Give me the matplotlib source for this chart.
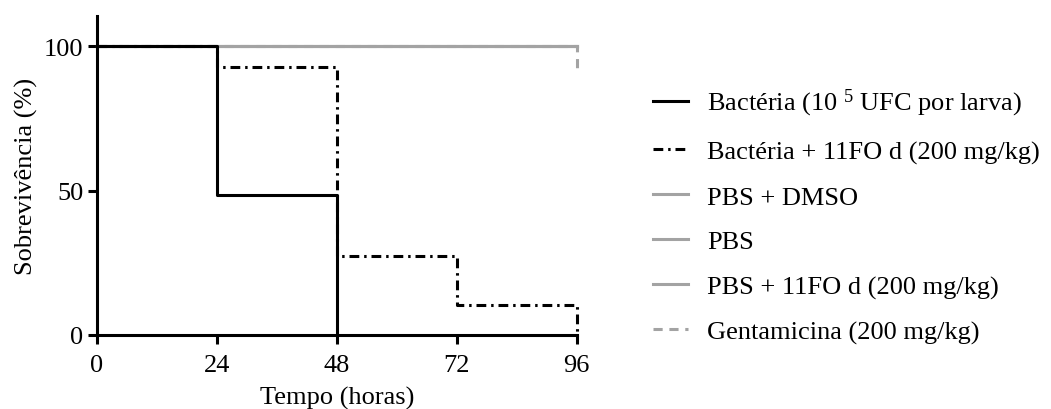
import matplotlib
matplotlib.use("Agg")
import matplotlib.pyplot as plt

# Data
tempo_ticks = [0, 24, 48, 72, 96]
sobrev_ticks = [0, 50, 100]

t_bact = [0, 24, 48]
s_bact = [100, 48.3, 0]

t_bact_11fo = [0, 24, 48, 72, 96]
s_bact_11fo = [100, 93.0, 27.3, 10.3, 0]

t_pbs_dmso = [0, 96]
s_pbs_dmso = [100, 100]
t_pbs = [0, 96]
s_pbs = [100, 100]
t_pbs_11fo = [0, 96]
s_pbs_11fo = [100, 100]

t_genta = [0, 96]
s_genta = [100, 92.0]

labels = [
    "Bactéria (10 $^{5}$ UFC por larva)",
    "Bactéria + 11FO d (200 mg/kg)",
    "PBS + DMSO",
    "PBS",
    "PBS + 11FO d (200 mg/kg)",
    "Gentamicina (200 mg/kg)",
]

plt.rcParams['font.family'] = ['Liberation Serif', 'DejaVu Serif']
plt.rcParams['mathtext.fontset'] = 'custom'
plt.rcParams['mathtext.rm'] = 'Liberation Serif'
plt.rcParams['mathtext.it'] = 'Liberation Serif:italic'
plt.rcParams['mathtext.default'] = 'regular'

fig = plt.figure(figsize=(10.51, 4.10), dpi=100)
ax = fig.add_axes([0.092, 0.181, 0.4567, 0.778])

gray = '#a3a3a3'
lw = 2.2
dashdot = (0, (3.2, 1.6, 0.8, 1.6))

h3, = ax.step(t_pbs_dmso, s_pbs_dmso, where='post', color=gray, lw=lw, clip_on=False)
h4, = ax.step(t_pbs, s_pbs, where='post', color=gray, lw=lw, clip_on=False)
h5, = ax.step(t_pbs_11fo, s_pbs_11fo, where='post', color=gray, lw=lw, clip_on=False)
h6, = ax.step(t_genta, s_genta, where='post', color=gray, lw=lw, linestyle=(0, (3, 2.2)), clip_on=False)
h2, = ax.step(t_bact_11fo, s_bact_11fo, where='post', color='black', lw=lw, linestyle=dashdot, clip_on=False)
h1, = ax.step(t_bact, s_bact, where='post', color='black', lw=lw, clip_on=False)

ax.set_xlim(0, 96)
ax.set_ylim(0, 110.6)
ax.set_xticks(tempo_ticks)
ax.set_yticks(sobrev_ticks)
ax.tick_params(axis='both', direction='out', length=6.5, width=2.2, labelsize=19, colors='black')
ax.tick_params(axis='x', pad=7.5)
ax.tick_params(axis='y', pad=3)
for s in ['top', 'right']:
    ax.spines[s].set_visible(False)
for s in ['left', 'bottom']:
    ax.spines[s].set_linewidth(2.2)

ax.set_xlabel("Tempo (horas)", fontsize=19, labelpad=7)
ax.set_ylabel("Sobrevivência (%)", fontsize=19, labelpad=4)

leg = fig.legend([h1, h2, h3, h4, h5, h6], labels, loc='center left',
                 bbox_to_anchor=(0.6215, 0.472), frameon=False, fontsize=19,
                 handlelength=1.33, handletextpad=0.7, labelspacing=0.81,
                 borderaxespad=0, borderpad=0)

fig.savefig("out.png", dpi=100)
